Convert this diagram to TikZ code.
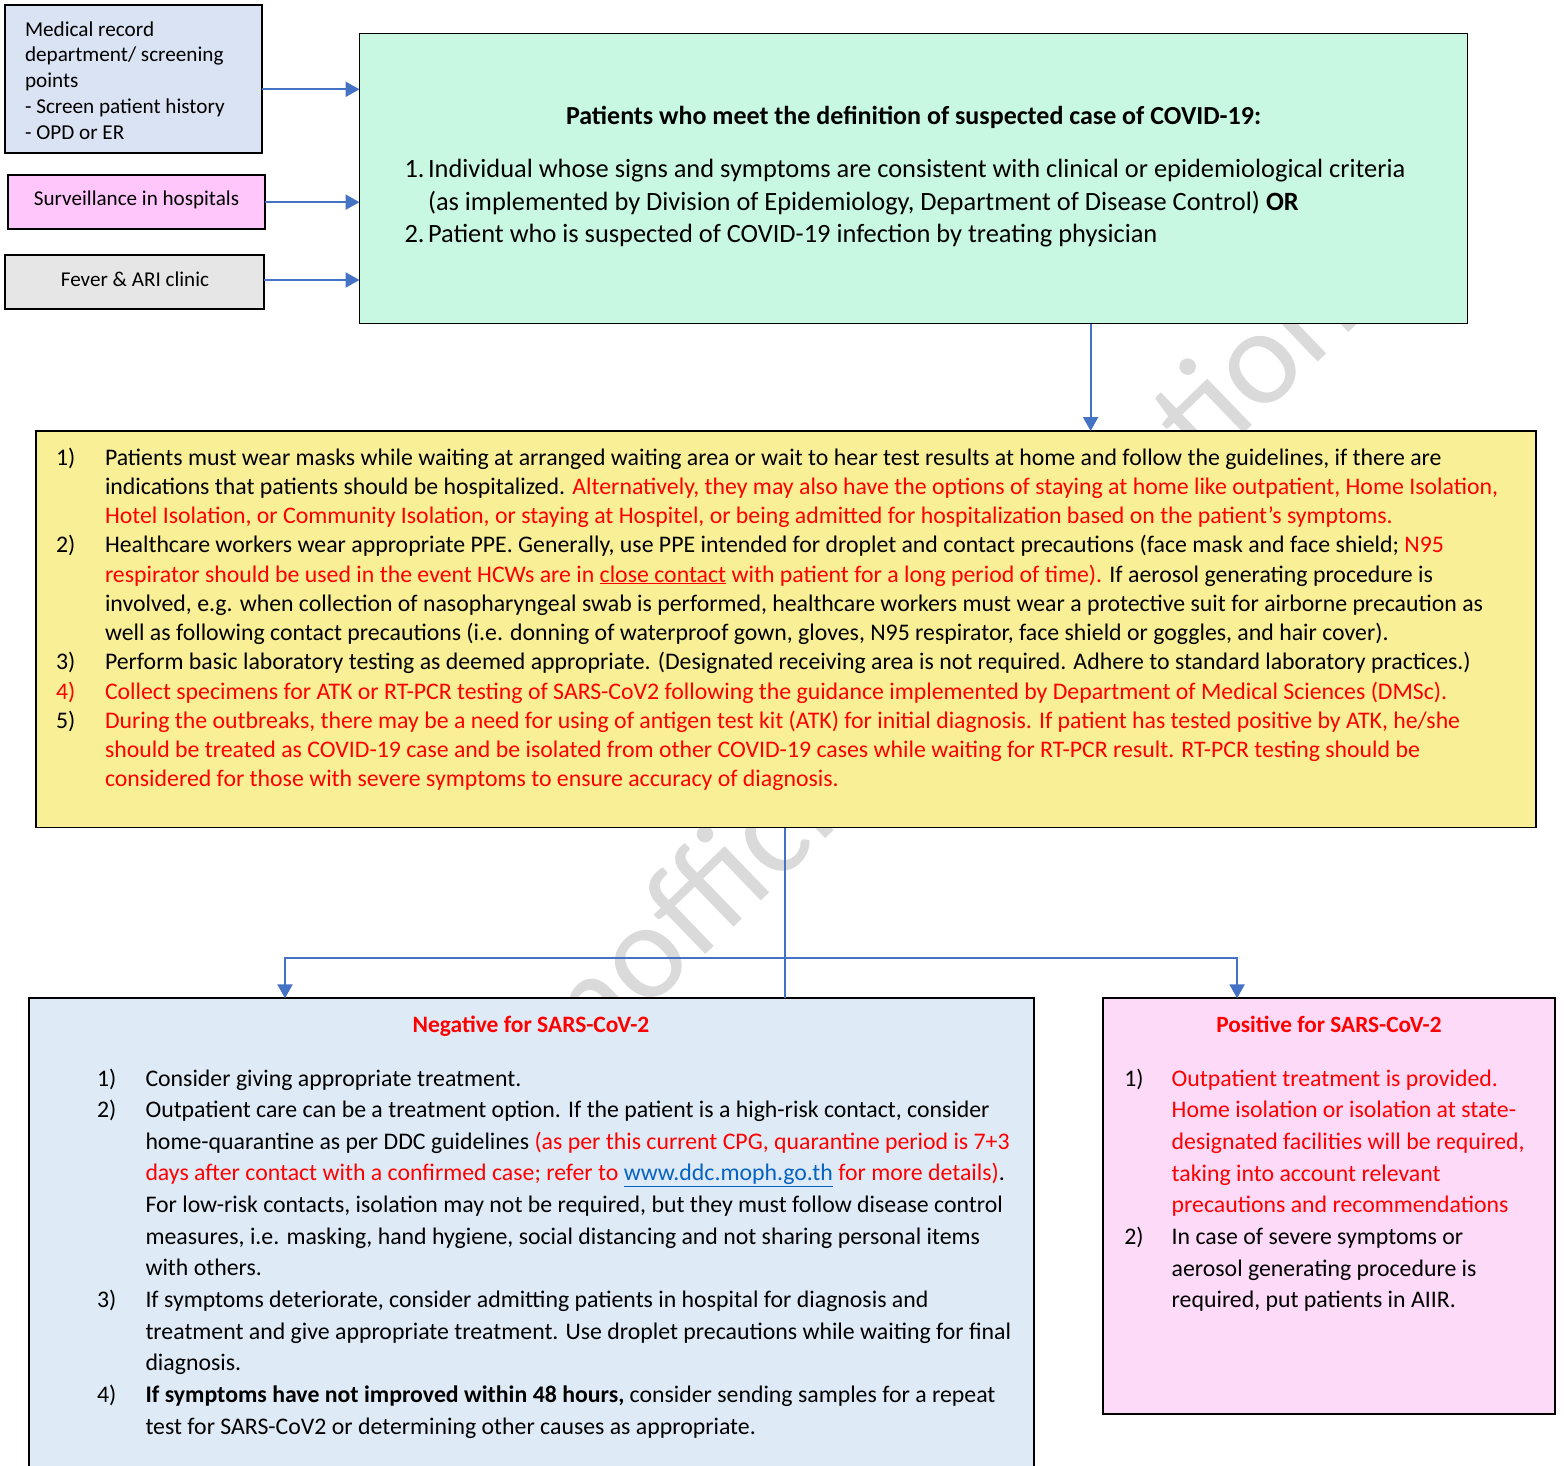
\documentclass[tikz,border=0pt]{standalone}
\usepackage{fontspec}
\setmainfont{Carlito}
\usetikzlibrary{arrows.meta}
\definecolor{medfill}{HTML}{DAE3F3}
\definecolor{survfill}{HTML}{FFC6FB}
\definecolor{feverfill}{HTML}{E6E6E6}
\definecolor{greenfill}{HTML}{C9F8E2}
\definecolor{yellowfill}{HTML}{F9EF96}
\definecolor{negfill}{HTML}{DEEAF6}
\definecolor{posfill}{HTML}{FDDAF8}
\definecolor{lineblue}{HTML}{4472C4}
\definecolor{txtred}{HTML}{FF0000}
\definecolor{linkblue}{HTML}{0563C1}
\definecolor{wmgray}{HTML}{DADADA}
\newcommand{\redt}[1]{\textcolor{txtred}{#1}}
\tikzset{
  box/.style={draw=black, line width=1.8pt, inner sep=0pt, outer sep=0pt, anchor=north west},
  arr/.style={draw=lineblue, line width=2.2pt, -{Triangle[length=14pt,width=15pt]}},
  conn/.style={draw=lineblue, line width=2.2pt},
  txt/.style={inner sep=0pt, outer sep=0pt, align=left, anchor=north west, text=black},
  num/.style={inner sep=0pt, outer sep=0pt, anchor=base west, text=black},
  ctr/.style={inner sep=0pt, outer sep=0pt, anchor=base, text=black},
}
\begin{document}
\begin{tikzpicture}[x=1pt,y=-1pt]
\clip (0,0) rectangle (1564,1465);
\fill[white] (0,0) rectangle (1564,1465);
% watermark
\node[inner sep=0pt, anchor=base, rotate=44, text=wmgray, font=\fontsize{137}{150}\selectfont] (wm) at (947,721) {Unofficial translation};
% boxes
\node[box, fill=medfill, minimum width=257pt, minimum height=148pt] (med) at (4.7,4.7) {};
\node[box, fill=survfill, minimum width=257pt, minimum height=54.3pt] (surv) at (8,175) {};
\node[box, fill=feverfill, minimum width=259pt, minimum height=54pt] (fev) at (5,255) {};
\node[box, fill=greenfill, minimum width=1108pt, minimum height=290pt] (green) at (359.5,33.5) {};
\node[box, fill=yellowfill, minimum width=1500pt, minimum height=396.5pt] (yel) at (36,431) {};
\node[box, fill=negfill, minimum width=1005pt, minimum height=520pt] (neg) at (29,998.3) {};
\node[box, fill=posfill, minimum width=452pt, minimum height=416pt] (pos) at (1103,998.3) {};
% left box texts
\node[txt, font=\fontsize{21.2}{25.8}\selectfont] (medt) at (25,18) {\strut Medical record\\department/ screening\\points\\- Screen patient history\\- OPD or ER};
\node[ctr, font=\fontsize{21.1}{25.8}\selectfont] (survt) at (136.5,205) {Surveillance in hospitals};
\node[ctr, font=\fontsize{21.1}{25.8}\selectfont] (fevt) at (135,286) {Fever \& ARI clinic};
% green box texts
\node[ctr, font=\fontsize{26}{30}\selectfont\bfseries] (gtitle) at (913.6,124.3) {Patients who meet the definition of suspected case of COVID-19:};
\node[num, font=\fontsize{26.4}{32.3}\selectfont] (gn1) at (404.5,177.7) {1.};
\node[num, font=\fontsize{26.4}{32.3}\selectfont] (gn2) at (404.5,242.3) {2.};
\node[txt, font=\fontsize{26.4}{32.3}\selectfont] (glist) at (428,155.1) {\strut Individual whose signs and symptoms are consistent with clinical or epidemiological criteria\\(as implemented by Division of Epidemiology, Department of Disease Control) \textbf{OR}\\Patient who is suspected of COVID-19 infection by treating physician};
% yellow box texts
\node[num, font=\fontsize{23.8}{29.27}\selectfont] (yn1) at (56,465) {1)};
\node[num, font=\fontsize{23.8}{29.27}\selectfont] (yn2) at (56,552.8) {2)};
\node[num, font=\fontsize{23.8}{29.27}\selectfont] (yn3) at (56,669.9) {3)};
\node[num, font=\fontsize{23.8}{29.27}\selectfont, text=txtred] (yn4) at (56,699.2) {4)};
\node[num, font=\fontsize{23.8}{29.27}\selectfont] (yn5) at (56,728.4) {5)};
\node[txt, font=\fontsize{23.8}{29.27}\selectfont] (ylist) at (105,444.5) {\strut Patients must wear masks while waiting at arranged waiting area or wait to hear test results at home and follow the guidelines, if there are\\
indications that patients should be hospitalized. \redt{Alternatively, they may also have the options of staying at home like outpatient, Home Isolation,}\\
\redt{Hotel Isolation, or Community Isolation, or staying at Hospitel, or being admitted for hospitalization based on the patient’s symptoms.}\\
Healthcare workers wear appropriate PPE. Generally, use PPE intended for droplet and contact precautions (face mask and face shield; \redt{N95}\\
\redt{respirator should be used in the event HCWs are in \underline{close contact} with patient for a long period of time).} If aerosol generating procedure is\\
involved, e.g. when collection of nasopharyngeal swab is performed, healthcare workers must wear a protective suit for airborne precaution as\\
well as following contact precautions (i.e. donning of waterproof gown, gloves, N95 respirator, face shield or goggles, and hair cover).\\
Perform basic laboratory testing as deemed appropriate. (Designated receiving area is not required. Adhere to standard laboratory practices.)\\
\redt{Collect specimens for ATK or RT-PCR testing of SARS-CoV2 following the guidance implemented by Department of Medical Sciences (DMSc).}\\
\redt{During the outbreaks, there may be a need for using of antigen test kit (ATK) for initial diagnosis. If patient has tested positive by ATK, he/she}\\
\redt{should be treated as COVID-19 case and be isolated from other COVID-19 cases while waiting for RT-PCR result. RT-PCR testing should be}\\
\redt{considered for those with severe symptoms to ensure accuracy of diagnosis.}};
% negative box texts
\node[ctr, font=\fontsize{23.5}{30}\selectfont\bfseries, text=txtred] (negt) at (531,1032.3) {Negative for SARS-CoV-2};
\node[num, font=\fontsize{23.8}{31.64}\selectfont] (nn1) at (97,1086) {1)};
\node[num, font=\fontsize{23.8}{31.64}\selectfont] (nn2) at (97,1117.6) {2)};
\node[num, font=\fontsize{23.8}{31.64}\selectfont] (nn3) at (97,1307.5) {3)};
\node[num, font=\fontsize{23.8}{31.64}\selectfont] (nn4) at (97,1402.4) {4)};
\node[txt, font=\fontsize{23.8}{31.64}\selectfont] (nlist) at (145.5,1063.85) {\strut Consider giving appropriate treatment.\\
Outpatient care can be a treatment option. If the patient is a high-risk contact, consider\\
home-quarantine as per DDC guidelines \redt{(as per this current CPG, quarantine period is 7+3}\\
\redt{days after contact with a confirmed case; refer to \textcolor{linkblue}{\underline{www.ddc.moph.go.th}} for more details)}.\\
For low-risk contacts, isolation may not be required, but they must follow disease control\\
measures, i.e. masking, hand hygiene, social distancing and not sharing personal items\\
with others.\\
If symptoms deteriorate, consider admitting patients in hospital for diagnosis and\\
treatment and give appropriate treatment. Use droplet precautions while waiting for final\\
diagnosis.\\
\textbf{If symptoms have not improved within 48 hours,} consider sending samples for a repeat\\
test for SARS-CoV2 or determining other causes as appropriate.};
% positive box texts
\node[ctr, font=\fontsize{23.3}{30}\selectfont\bfseries, text=txtred] (post) at (1329,1032.3) {Positive for SARS-CoV-2};
\node[num, font=\fontsize{23.8}{31.7}\selectfont] (pn1) at (1124.3,1086) {1)};
\node[num, font=\fontsize{23.8}{31.7}\selectfont] (pn2) at (1124.3,1244.5) {2)};
\node[txt, font=\fontsize{23.8}{31.7}\selectfont] (plist) at (1171.7,1063.8) {\strut\redt{Outpatient treatment is provided.}\\
\redt{Home isolation or isolation at state-}\\
\redt{designated facilities will be required,}\\
\redt{taking into account relevant}\\
\redt{precautions and recommendations}\\
In case of severe symptoms or\\
aerosol generating procedure is\\
required, put patients in AIIR.};
% connectors
\draw[arr] ([yshift=-10.6pt]med.east) coordinate (s1) -- (s1 -| green.west);
\draw[arr] (surv.east) -- (surv.east -| green.west);
\draw[arr] ([yshift=2pt]fev.east) coordinate (s3) -- (s3 -| green.west);
\draw[arr] ([xshift=177.1pt]green.south) coordinate (s4) -- (s4 |- yel.north);
\coordinate (vx) at (785,958.3);
\draw[conn] (vx |- yel.south) -- (vx |- neg.north);
\draw[arr] (vx) -| ([xshift=-246.5pt]neg.north);
\draw[arr] (vx) -| ([xshift=-91.9pt]pos.north);
\end{tikzpicture}
\end{document}
